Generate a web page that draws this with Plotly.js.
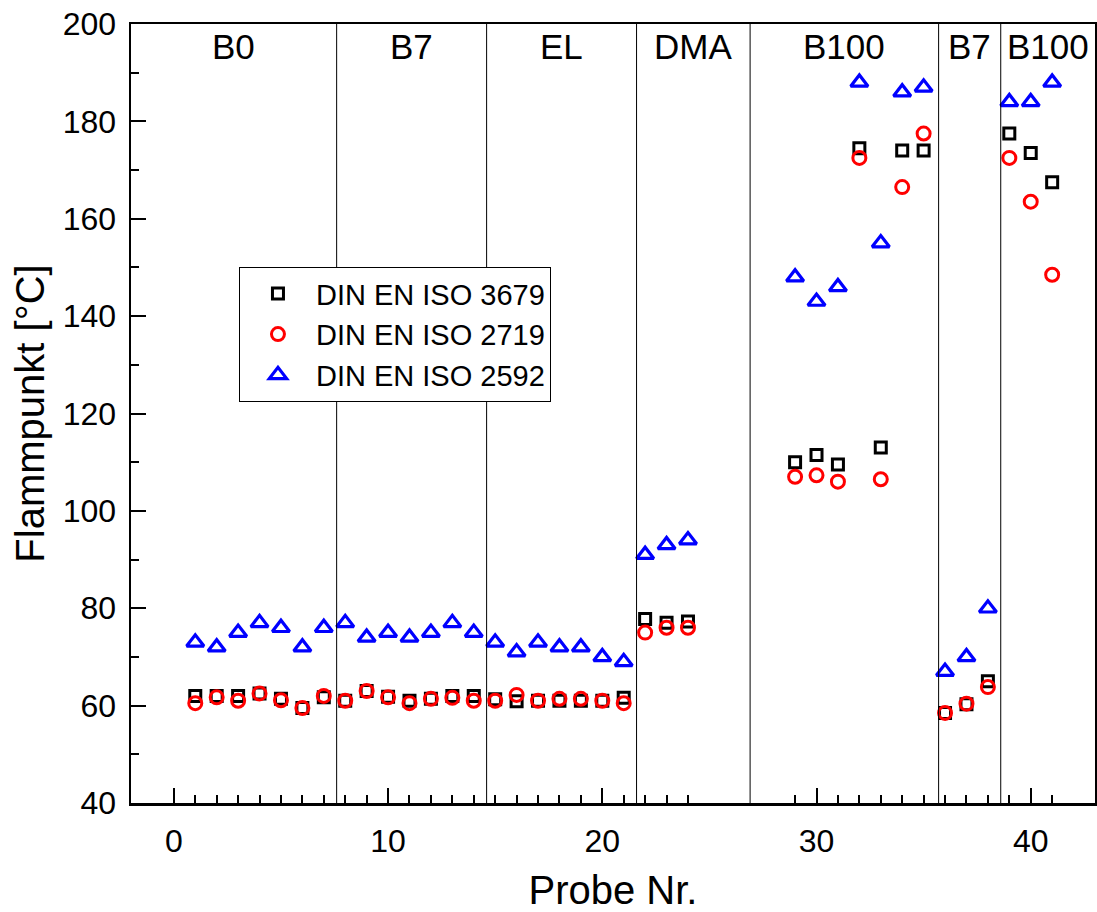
<!DOCTYPE html>
<html>
<head>
<meta charset="utf-8">
<script src="https://cdn.plot.ly/plotly-3.0.1.min.js"></script>
<style>html,body{margin:0;padding:0;background:#fff}#chart{width:1097px;height:912px}</style>
</head>
<body>
<div id="chart"></div>
<script>
// Probe numbers
var probeNr = [1,2,3,4,5,6,7,8,9,10,11,12,13,14,15,16,17,18,19,20,21,22,23,24,29,30,31,32,33,34,35,36,37,38,39,40,41];
// Flash points [°C]
var iso3679 = [62,62,62,62.5,61.4,59.5,61.7,61,63,61.8,61,61.4,62,62,61.3,60.9,61,61,61,61,61.6,77.8,77,77.3,110,111.5,109.5,174.5,113,174,174,58.5,60.3,65,177.5,173.5,167.5];
var iso2719 = [60.5,61.7,61,62.5,61.1,59.5,62,61,63,61.7,60.5,61.4,61.6,61,61,62.2,61,61.4,61.4,61,60.5,75,76,76,107,107.3,106,172.5,106.5,166.5,177.5,58.5,60.4,63.8,172.5,163.5,148.5];
var iso2592 = [73,72,75,77,76,72,76,77,74,75,74,75,77,75,73,71,73,72,72,70,69,91,93,94,148,143,146,188,155,186,187,67,70,80,184,184,188];
var seriesNames = ["DIN EN ISO 3679","DIN EN ISO 2719","DIN EN ISO 2592"];
// Fuel groups and their boundaries on the probe axis
var groupNames = ["B0","B7","EL","DMA","B100","B7","B100"];
var groupBounds = [7.6,14.6,21.6,26.9,35.7,38.6];

var xRange = [-2, 43];
var yRange = [40, 200];
var FONT = "Liberation Sans, Arial, sans-serif";

var traces = [
  {x: probeNr, y: iso3679, name: seriesNames[0], type: "scatter", mode: "markers",
   marker: {symbol: "square-open", size: 11, color: "#000000", line: {width: 3, color: "#000000"}}},
  {x: probeNr, y: iso2719, name: seriesNames[1], type: "scatter", mode: "markers",
   marker: {symbol: "circle-open", size: 13, color: "#ff0000", line: {width: 3, color: "#ff0000"}}},
  {x: probeNr, y: iso2592, name: seriesNames[2], type: "scatter", mode: "markers",
   marker: {symbol: "triangle-up-open", size: 15, color: "#0000ff", line: {width: 3.2, color: "#0000ff"}}}
];

var shapes = groupBounds.map(function (b) {
  return {type: "line", xref: "x", yref: "paper", x0: b, x1: b, y0: 0, y1: 1,
          line: {color: "#000000", width: 1}};
});

var edges = [xRange[0]].concat(groupBounds).concat([xRange[1]]);
var annotations = groupNames.map(function (g, i) {
  return {text: g, xref: "x", yref: "paper", x: (edges[i] + edges[i + 1]) / 2, y: 0.971,
          xanchor: "center", yanchor: "middle", showarrow: false,
          font: {family: FONT, size: 35, color: "#000000"}};
});

var minorX = probeNr.filter(function (v) { return v % 10 !== 0; });

var layout = {
  width: 1097, height: 912,
  margin: {l: 131, r: 2, t: 24, b: 109},
  paper_bgcolor: "#ffffff", plot_bgcolor: "#ffffff",
  font: {family: FONT, size: 32, color: "#000000"},
  showlegend: true,
  legend: {x: 0.112, y: 0.688, xanchor: "left", yanchor: "top",
           bgcolor: "#ffffff", bordercolor: "#000000", borderwidth: 1,
           itemwidth: 66,
           font: {family: FONT, size: 29, color: "#000000"}, tracegroupgap: 0},
  xaxis: {
    range: xRange, showgrid: false, zeroline: false,
    showline: true, linecolor: "#000000", linewidth: 2.5, mirror: true,
    ticks: "inside", ticklen: 15, tickwidth: 2, tickcolor: "#000000",
    tickmode: "array", tickvals: [0,10,20,30,40],
    ticklabelstandoff: 8,
    tickfont: {family: FONT, size: 32, color: "#000000"},
    minor: {tickmode: "array", tickvals: minorX, ticks: "inside", ticklen: 8, tickwidth: 2, tickcolor: "#000000", showgrid: false},
    title: {text: "Probe Nr.", font: {family: FONT, size: 40, color: "#000000"}, standoff: 20}
  },
  yaxis: {
    range: yRange, showgrid: false, zeroline: false,
    showline: true, linecolor: "#000000", linewidth: 2.5, mirror: true,
    ticks: "inside", ticklen: 15, tickwidth: 2, tickcolor: "#000000",
    dtick: 20, tick0: 0,
    ticklabelstandoff: 6,
    tickfont: {family: FONT, size: 32, color: "#000000"},
    minor: {dtick: 10, ticks: "inside", ticklen: 8, tickwidth: 2, tickcolor: "#000000", showgrid: false},
    title: {text: "Flammpunkt [°C]", font: {family: FONT, size: 40, color: "#000000"}, standoff: 6}
  },
  shapes: shapes,
  annotations: annotations
};

Plotly.newPlot("chart", traces, layout, {displayModeBar: false, staticPlot: true});
</script>
</body>
</html>
